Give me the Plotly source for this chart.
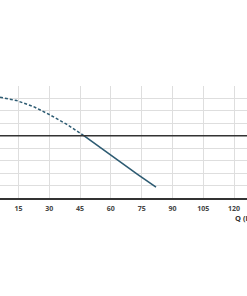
import plotly.graph_objects as go

# Data
q_dashed = [6.0, 14.1, 22.2, 30.3, 38.4, 46.5]
h_dashed = [8.10, 7.83, 7.35, 6.68, 5.93, 5.05]
q_solid = [46.5, 55.0, 64.0, 73.0, 82.0]
h_solid = [5.05, 4.02, 2.93, 1.90, 0.87]
x_ticks = [15, 30, 45, 60, 75, 90, 105, 120]
ref_head = 5
x_title = "Q (l/min)"

curve_color = "#2d5b72"

fig = go.Figure()
fig.add_trace(go.Scatter(x=q_dashed, y=h_dashed, mode="lines",
                         line=dict(color=curve_color, width=1.5, dash="3px,2px"),
                         showlegend=False, hoverinfo="skip"))
fig.add_trace(go.Scatter(x=q_solid, y=h_solid, mode="lines",
                         line=dict(color=curve_color, width=1.6),
                         showlegend=False, hoverinfo="skip"))

fig.add_hline(y=ref_head, line=dict(color="#333333", width=1.5))

fig.update_layout(
    width=247, height=296,
    margin=dict(l=0, r=0, t=86, b=98),
    paper_bgcolor="white", plot_bgcolor="white",
    xaxis=dict(range=[5.99, 126.33], tickvals=x_ticks,
               ticktext=[str(v) for v in x_ticks],
               showgrid=True, gridcolor="#dedede", gridwidth=1,
               showline=True, linecolor="#333333", linewidth=1.5,
               zeroline=False, ticks="", ticklabelstandoff=3,
               tickfont=dict(family="Open Sans", size=7, color="#444444", weight="bold"),
               fixedrange=True),
    yaxis=dict(range=[0, 9], dtick=1, showgrid=True, gridcolor="#dedede", gridwidth=1,
               showticklabels=False, zeroline=False, showline=False, ticks="",
               fixedrange=True),
)

# x-axis title placed below the right end of the axis (cut by the frame as in the reference)
fig.add_annotation(x=1.0, y=0, xref="paper", yref="paper",
                   text="<b>" + x_title + "</b>", showarrow=False,
                   xanchor="left", yanchor="top", xshift=-14, yshift=-13,
                   font=dict(family="Open Sans", size=7.5, color="#333333"))

fig.write_html("out.html")
